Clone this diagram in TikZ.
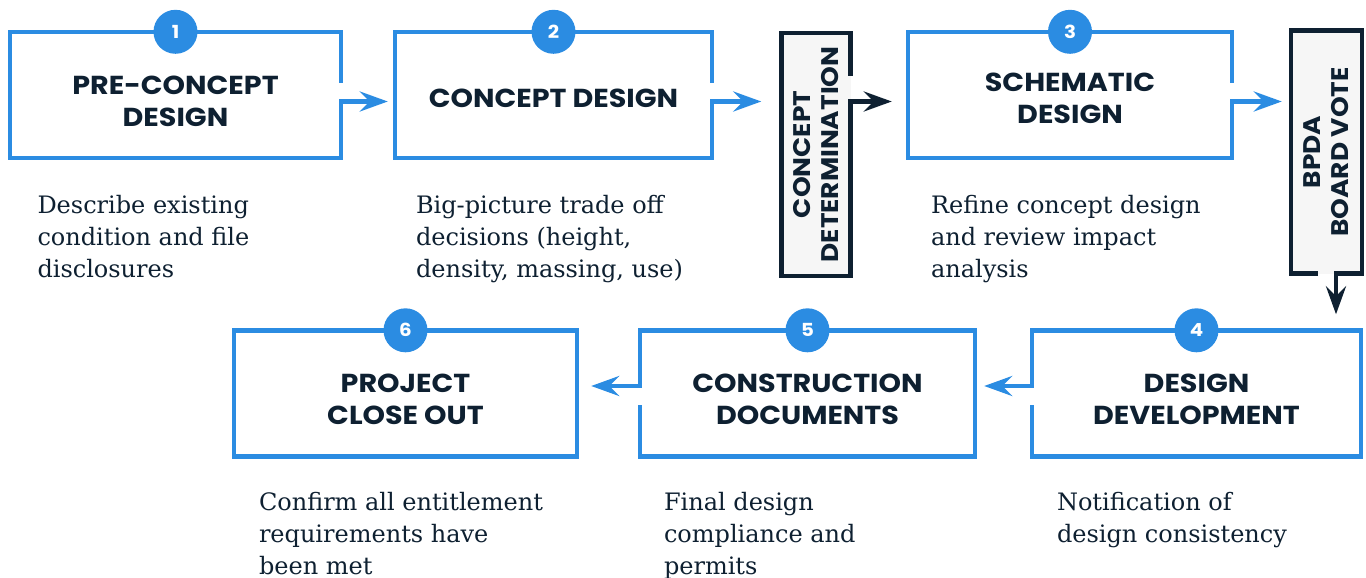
\documentclass[tikz,border=0pt]{standalone}
\usepackage{fontspec}
\setmainfont{DejaVu Serif}
\newfontfamily\headfont{Poppins}[FakeStretch=1.1]
\usetikzlibrary{arrows.meta,positioning}
\definecolor{flowblue}{HTML}{2B8CE2}
\definecolor{ink}{HTML}{0E2031}
\definecolor{panel}{HTML}{F6F6F6}
\begin{document}
\begin{tikzpicture}[x=1pt,y=-1pt,on grid,
    stage/.style={minimum height=126pt,inner sep=0pt},
    gate/.style={minimum width=69pt,minimum height=243pt,inner sep=0pt,fill=panel},
    title/.style={font=\headfont\bfseries\fontsize{26}{32}\selectfont,text=ink,align=center,yshift=-6pt},
    vtitle/.style={font=\headfont\bfseries\fontsize{24}{28}\selectfont,text=ink,align=center,rotate=90},
    badge/.style={circle,fill=flowblue,minimum size=44pt,inner sep=0pt,text=white,font=\headfont\bfseries\fontsize{18}{18}\selectfont},
    desc/.style={font=\fontsize{24}{32}\selectfont,text=ink,align=left,inner sep=0pt},
    frame/.style={draw=flowblue,line width=4.5pt},
    darkframe/.style={draw=ink,line width=4.5pt},
    flow/.style={-{Stealth[length=28pt,width=20pt,inset=10pt]}}]
  \useasboundingbox (0,0) rectangle (1366,578);
  % top row
  \node[stage,minimum width=331pt,label={[title]center:PRE-CONCEPT\\DESIGN}] (s_1) at (175.5,95) {};
  \node[stage,minimum width=317pt,label={[title,yshift=3pt]center:CONCEPT DESIGN}] [right=378pt of s_1] (s_2) {};
  \node[gate,label={[vtitle]center:CONCEPT\\DETERMINATION}] [below right=59.5pt and 262.5pt of s_2] (det) {};
  \node[stage,minimum width=324pt,label={[title,yshift=3pt]center:SCHEMATIC\\DESIGN}] [right=516.5pt of s_2] (s_3) {};
  \node[gate,minimum width=71pt,label={[vtitle]center:BPDA\\BOARD VOTE}] [below right=57pt and 256.5pt of s_3] (vote) {};
  % bottom row
  \node[stage,minimum width=329pt,label={[title]center:DESIGN\\DEVELOPMENT}] [below right=298.5pt and 126.5pt of s_3] (s_4) {};
  \node[stage,minimum width=335pt,label={[title]center:CONSTRUCTION\\DOCUMENTS}] [left=389pt of s_4] (s_5) {};
  \node[stage,minimum width=343pt,label={[title]center:PROJECT\\CLOSE OUT}] [left=402pt of s_5] (s_6) {};

  % frames and arrows
  \draw[frame,flow,shorten >=7pt] ([yshift=12pt]s_1.east) |- (s_1.north west) |- (s_1.south east) |- ([yshift=-6.5pt]s_1.east -| s_2.west);
  \draw[frame,flow,shorten >=20pt] ([yshift=12pt]s_2.east) |- (s_2.north west) |- (s_2.south east) |- ([yshift=-6.5pt]s_2.east -| det.west);
  \draw[darkframe,flow,shorten >=16pt] ([yshift=78.5pt]det.east) |- (det.north west) |- (det.south east) |- ([yshift=53pt]det.east -| s_3.west);
  \draw[frame,flow,shorten >=9pt] ([yshift=12pt]s_3.east) |- (s_3.north west) |- (s_3.south east) |- ([yshift=-6.5pt]s_3.east -| vote.west);
  \draw[darkframe,flow,shorten >=16pt] ([xshift=-8.5pt]vote.south) -| (vote.north west) -| (vote.south east) -| ([xshift=9.5pt]vote.south |- s_4.north);
  \draw[frame,flow,shorten >=9pt] ([yshift=-11.5pt]s_4.west) |- (s_4.south east) |- (s_4.north west) |- ([yshift=7.5pt]s_4.west -| s_5.east);
  \draw[frame,flow,shorten >=14pt] ([yshift=-11.5pt]s_5.west) |- (s_5.south east) |- (s_5.north west) |- ([yshift=7.5pt]s_5.west -| s_6.east);
  \draw[frame] (s_6.north west) rectangle (s_6.south east);

  % numbers
  \node[badge] (n_1) at (s_1.north) {1};
  \node[badge] (n_2) at (s_2.north) {2};
  \node[badge] (n_3) at (s_3.north) {3};
  \node[badge] (n_4) at (s_4.north) {4};
  \node[badge] (n_5) at (s_5.north) {5};
  \node[badge] (n_6) at (s_6.north) {6};

  % descriptions (base is the last line)
  \node[desc] [below right=119pt and 27.5pt of s_1.south west,anchor=base west] (d_1) {Describe existing\\condition and file\\disclosures};
  \node[desc] [below right=119pt and 21pt of s_2.south west,anchor=base west] (d_2) {Big-picture trade off\\decisions (height,\\density, massing, use)};
  \node[desc] [below right=119pt and 23pt of s_3.south west,anchor=base west] (d_3) {Refine concept design\\and review impact\\analysis};
  \node[desc] [below right=86pt and 25pt of s_4.south west,anchor=base west] (d_4) {Notification of\\design consistency};
  \node[desc] [below right=118pt and 24pt of s_5.south west,anchor=base west] (d_5) {Final design\\compliance and\\permits};
  \node[desc] [below right=118pt and 25pt of s_6.south west,anchor=base west] (d_6) {Confirm all entitlement\\requirements have\\been met};
\end{tikzpicture}
\end{document}
